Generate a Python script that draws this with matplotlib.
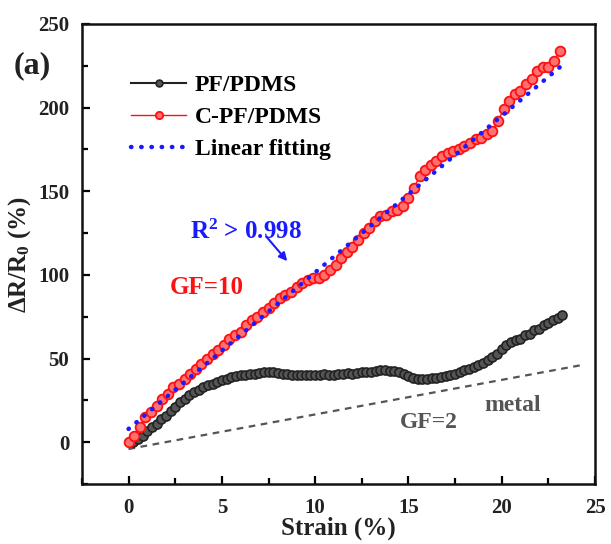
import matplotlib
matplotlib.use("Agg")
import matplotlib.pyplot as plt
from matplotlib.ticker import MultipleLocator

# data
pf_strain = [0.25, 0.5, 0.75, 1.0, 1.25, 1.5, 1.75, 2.0, 2.25, 2.5, 2.75, 3.0, 3.25, 3.5,
             3.75, 4.0, 4.25, 4.5, 4.75, 5.0, 5.25, 5.5, 5.75, 6.0, 6.25, 6.5, 6.75, 7.0,
             7.25, 7.5, 7.75, 8.0, 8.25, 8.5, 8.75, 9.0, 9.25, 9.5, 9.75, 10.0, 10.25,
             10.5, 10.75, 11.0, 11.25, 11.5, 11.75, 12.0, 12.25, 12.5, 12.75, 13.0, 13.25,
             13.5, 13.75, 14.0, 14.25, 14.5, 14.75, 15.0, 15.25, 15.5, 15.75, 16.0, 16.25,
             16.5, 16.75, 17.0, 17.25, 17.5, 17.75, 18.0, 18.25, 18.5, 18.75, 19.0, 19.25,
             19.5, 19.75, 20.0, 20.25, 20.5, 20.75, 21.0, 21.25, 21.5, 21.75, 22.0, 22.25,
             22.5, 22.75, 23.0, 23.25]
pf_resp = [0, 2, 4, 7, 9, 11, 14, 16, 19, 21, 24, 26, 28, 30,
           31, 33, 34, 35, 36, 37, 38, 39, 39.5, 40, 40.5, 41, 41, 41.5,
           42, 42, 42, 41.5, 41, 41, 40.5, 40.5, 40.5, 40.5, 40, 40, 40.5,
           41, 40.5, 40.5, 41, 41, 41.5, 41, 41.5, 42, 42, 42, 42.5,
           43, 43, 42.5, 42.5, 42, 41, 39.5, 38.5, 38, 38, 38, 38.5,
           38.5, 39, 39.5, 40, 41, 42, 43, 44, 45, 46, 47.5, 49,
           51, 53, 56, 58, 60, 61, 62, 64, 65, 67, 68, 70,
           71, 73, 74, 76]

cpf_strain = [0.0, 0.3, 0.6, 0.9, 1.2, 1.5, 1.8, 2.1, 2.4, 2.7, 3.0, 3.3, 3.6, 3.9, 4.2,
              4.5, 4.8, 5.1, 5.4, 5.7, 6.0, 6.3, 6.6, 6.9, 7.2, 7.5, 7.8, 8.1, 8.4, 8.7,
              9.0, 9.3, 9.6, 9.9, 10.2, 10.5, 10.8, 11.1, 11.4, 11.7, 12.0, 12.3, 12.6,
              12.9, 13.2, 13.5, 13.8, 14.1, 14.4, 14.7, 15.0, 15.3, 15.6, 15.9, 16.2,
              16.5, 16.8, 17.1, 17.4, 17.7, 18.0, 18.3, 18.6, 18.9, 19.2, 19.5, 19.8,
              20.1, 20.4, 20.7, 21.0, 21.3, 21.6, 21.9, 22.2, 22.5, 22.8, 23.1]
cpf_resp = [0, 4, 9, 15, 18, 22, 26, 29, 33, 35, 38, 41, 44, 47, 50,
            53, 55, 58, 62, 64, 66, 70, 73, 75, 78, 80, 83, 86, 88, 90,
            93, 95, 97, 98, 98, 100, 103, 106, 110, 114, 117, 121, 125,
            128, 132, 135, 136, 138, 139, 141, 146, 152, 159, 163, 166,
            168, 171, 173, 174, 175, 177, 179, 181, 182, 184, 186, 192,
            199, 204, 208, 210, 214, 217, 222, 224, 224, 228, 234]

fit_strain = [0.0, 23.2]
fit_resp = [8, 225]

metal_strain = [0.0, 24.2]
metal_resp = [-4, 46]

plt.rcParams["font.family"] = "Liberation Serif"
plt.rcParams["font.weight"] = "bold"
plt.rcParams["axes.labelweight"] = "bold"
plt.rcParams["mathtext.fontset"] = "custom"
plt.rcParams["mathtext.rm"] = "Liberation Serif:bold"
plt.rcParams["mathtext.bf"] = "Liberation Serif:bold"
plt.rcParams["mathtext.default"] = "bf"

fig = plt.figure(figsize=(6.11, 5.44), dpi=100)
ax = fig.add_axes([0.134, 0.110, 0.840, 0.846])

ax.plot(metal_strain, metal_resp, linestyle=(0, (3, 2.5)), color="#555555", lw=1.6)
ax.plot(pf_strain, pf_resp, color="#222222", lw=1.5, marker="o", ms=6.5,
        mfc="#555555", mec="#222222", mew=1.2, label="PF/PDMS")
ax.plot(cpf_strain, cpf_resp, color="#ff1010", lw=1.0, marker="o", ms=7,
        mfc="#ff7070", mec="#ff1010", mew=1.3, label="C-PF/PDMS")
ax.plot(fit_strain, fit_resp, linestyle=(0, (0.1, 2.2)), color="#1a1aff", lw=3.2,
        dash_capstyle="round", label="Linear fitting")

ax.set_xlim(-2.5, 25)
ax.set_ylim(-25, 250)
ax.xaxis.set_major_locator(MultipleLocator(5))
ax.xaxis.set_minor_locator(MultipleLocator(2.5))
ax.yaxis.set_major_locator(MultipleLocator(50))
ax.yaxis.set_minor_locator(MultipleLocator(25))
ax.tick_params(which="both", direction="in", width=1.6, labelsize=15,
               labelcolor="#222222")
ax.tick_params(axis="x", pad=10)
ax.tick_params(axis="y", pad=9)
ax.tick_params(which="major", length=6)
ax.tick_params(which="minor", length=4)
for s in ax.spines.values():
    s.set_linewidth(1.8)
    s.set_color("#111111")

ax.set_xlabel("Strain (%)", fontsize=18, color="#222222", labelpad=-1)
ax.set_ylabel("ΔR/R$_0$ (%)", fontsize=18, color="#222222", labelpad=4)

leg = ax.legend(loc="upper left", bbox_to_anchor=(0.055, 0.936), frameon=False,
                fontsize=17, handlelength=2.3, handletextpad=0.4,
                labelspacing=0.45, markerscale=0.75)

ax.text(6.3, 126, "R$^2$ > 0.998", color="#1a1aff", fontsize=18, ha="center", va="center")
ax.annotate("", xy=(8.6, 107), xytext=(7.3, 124),
            arrowprops=dict(arrowstyle="-|>", color="#1a1aff", lw=1.5, mutation_scale=12))
ax.text(4.2, 92.5, "GF=10", color="#ff1010", fontsize=18, ha="center", va="center")
ax.text(16.1, 12, "GF=2", color="#555555", fontsize=17, ha="center", va="center")
ax.text(20.6, 22, "metal", color="#555555", fontsize=17, ha="center", va="center")

fig.text(0.052, 0.88, "(a)", fontsize=23, color="#222222", ha="center", va="center")

fig.savefig("out.png", dpi=100)
